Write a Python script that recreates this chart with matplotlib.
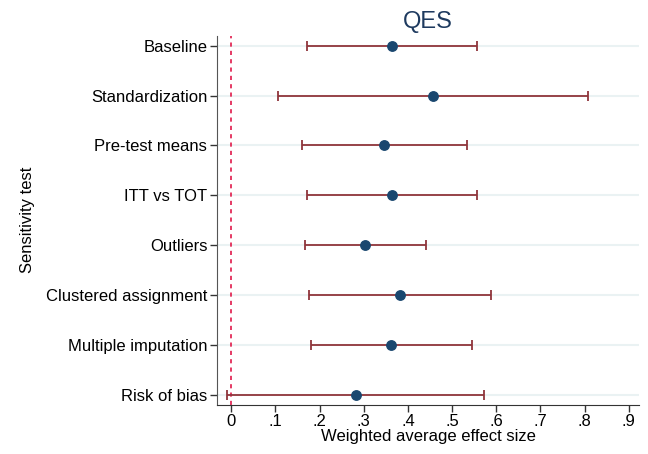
import numpy as np
import matplotlib.pyplot as plt

plt.rcParams['font.family'] = ['Liberation Sans', 'DejaVu Sans']

tests = ['Baseline', 'Standardization', 'Pre-test means', 'ITT vs TOT',
         'Outliers', 'Clustered assignment', 'Multiple imputation', 'Risk of bias']
effect = [0.365, 0.456, 0.346, 0.365, 0.304, 0.382, 0.362, 0.283]
ci_low = [0.171, 0.106, 0.160, 0.171, 0.167, 0.176, 0.181, -0.009]
ci_high = [0.557, 0.807, 0.533, 0.557, 0.442, 0.589, 0.544, 0.573]
xticks = [0, 0.1, 0.2, 0.3, 0.4, 0.5, 0.6, 0.7, 0.8, 0.9]
xtick_labels = ['0', '.1', '.2', '.3', '.4', '.5', '.6', '.7', '.8', '.9']


def main():
    fig = plt.figure(figsize=(6.48, 4.54), dpi=100)
    ax = fig.add_axes([0.335, 0.109, 0.651, 0.812])

    y = np.arange(1, len(tests) + 1)
    eff = np.array(effect)
    lo = np.array(ci_low)
    hi = np.array(ci_high)

    for yy in y:
        ax.axhline(yy, color='#eaf2f3', lw=1.5, zorder=0)
    ax.axvline(0, color='#e0194a', lw=1.2, ls=(0, (2.5, 2.5)), zorder=1)

    ax.errorbar(eff, y, xerr=[eff - lo, hi - eff], fmt='none',
                ecolor='#90353b', elinewidth=1.3, capsize=3.5, capthick=1.3, zorder=2)
    ax.plot(eff, y, 'o', color='#1a476f', markersize=6.8, zorder=3)

    ax.set_ylim(8.2, 0.8)
    ax.set_xlim(-0.032, 0.923)
    ax.set_yticks(y)
    ax.set_yticklabels(tests, fontsize=12)
    ax.set_xticks(xticks)
    ax.set_xticklabels(xtick_labels, fontsize=12)
    ax.tick_params(axis='both', direction='out', length=5, width=1, colors='#333333',
                   labelcolor='black', pad=2)

    for side in ['top', 'right']:
        ax.spines[side].set_visible(False)
    ax.spines['left'].set_color('#555555')
    ax.spines['bottom'].set_color('#333333')

    ax.set_xlabel('Weighted average effect size', fontsize=12, labelpad=0)
    ax.set_ylabel('Sensitivity test', fontsize=12, labelpad=8)
    ax.set_title('QES', fontsize=17, color='#1e3a5f', pad=6)

    fig.savefig('out.png', dpi=100)


if __name__ == "__main__":
    main()
